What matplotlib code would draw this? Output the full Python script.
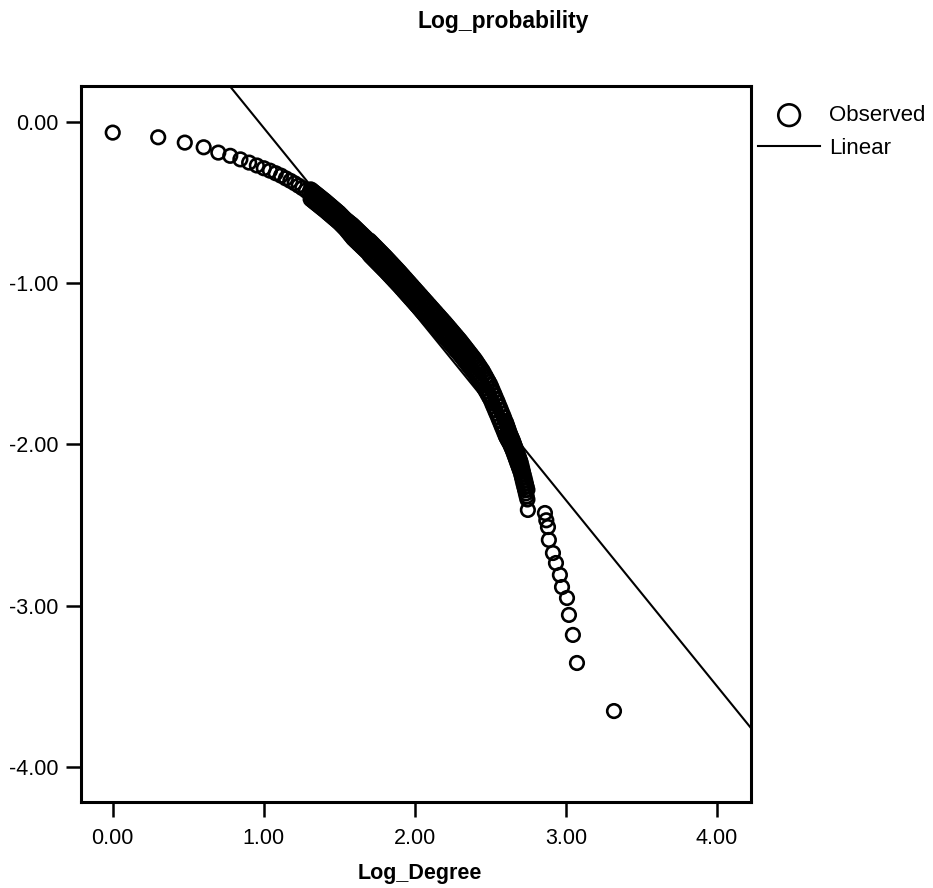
import numpy as np
import matplotlib.pyplot as plt
from matplotlib.ticker import FuncFormatter

plt.rcParams['font.family'] = ['Liberation Sans', 'DejaVu Sans']
plt.rcParams['axes.unicode_minus'] = False

# observed points (log10 degree, log10 probability)
# sparse head of the curve
head_x = [0.000, 0.301, 0.477, 0.602, 0.699, 0.778, 0.845, 0.903, 0.954, 1.000,
          1.041, 1.079, 1.114, 1.146, 1.176, 1.204, 1.230, 1.255, 1.279, 1.301]
head_y = [-0.066, -0.095, -0.128, -0.157, -0.190, -0.210, -0.232, -0.252, -0.270, -0.287,
          -0.302, -0.318, -0.333, -0.350, -0.365, -0.380, -0.395, -0.410, -0.425, -0.440]

# dense band: upper and lower edge of the point cloud at each x
band_x = [
    1.31, 1.32, 1.33, 1.34, 1.35, 1.36, 1.37, 1.38, 1.39, 1.40,
    1.41, 1.42, 1.43, 1.44, 1.45, 1.46, 1.47, 1.48, 1.49, 1.50,
    1.51, 1.52, 1.53, 1.54, 1.55, 1.56, 1.57, 1.58, 1.59, 1.60,
    1.61, 1.62, 1.63, 1.64, 1.65, 1.66, 1.67, 1.68, 1.69, 1.70,
    1.71, 1.72, 1.73, 1.74, 1.75, 1.76, 1.77, 1.78, 1.79, 1.80,
    1.81, 1.82, 1.83, 1.84, 1.85, 1.86, 1.87, 1.88, 1.89, 1.90,
    1.91, 1.92, 1.93, 1.94, 1.95, 1.96, 1.97, 1.98, 1.99, 2.00,
    2.01, 2.02, 2.03, 2.04, 2.05, 2.06, 2.07, 2.08, 2.09, 2.10,
    2.11, 2.12, 2.13, 2.14, 2.15, 2.16, 2.17, 2.18, 2.19, 2.20,
    2.21, 2.22, 2.23, 2.24, 2.25, 2.26, 2.27, 2.28, 2.29, 2.30,
    2.31, 2.32, 2.33, 2.34, 2.35, 2.36, 2.37, 2.38, 2.39, 2.40,
    2.41, 2.42, 2.43, 2.44, 2.45, 2.46, 2.47, 2.48, 2.49, 2.50,
    2.51, 2.52, 2.53, 2.54, 2.55, 2.56, 2.57, 2.58, 2.59,
    2.600, 2.605, 2.610, 2.615, 2.620, 2.625, 2.630, 2.635, 2.640, 2.645,
    2.650, 2.655, 2.660, 2.665, 2.670, 2.675, 2.680, 2.685, 2.690, 2.695,
    2.700, 2.705, 2.710, 2.715, 2.720, 2.725, 2.730, 2.735, 2.740, 2.745,
]
band_upper = [
    -0.418, -0.425, -0.433, -0.440, -0.448, -0.455, -0.463, -0.470, -0.478, -0.485,
    -0.493, -0.501, -0.509, -0.517, -0.525, -0.533, -0.541, -0.549, -0.557, -0.565,
    -0.575, -0.584, -0.594, -0.603, -0.611, -0.618, -0.626, -0.633, -0.641, -0.650,
    -0.659, -0.668, -0.677, -0.686, -0.695, -0.704, -0.713, -0.722, -0.731, -0.735,
    -0.745, -0.754, -0.764, -0.773, -0.783, -0.792, -0.802, -0.811, -0.821, -0.830,
    -0.840, -0.850, -0.860, -0.870, -0.880, -0.890, -0.900, -0.910, -0.920, -0.930,
    -0.941, -0.951, -0.962, -0.972, -0.983, -0.993, -1.004, -1.014, -1.025, -1.035,
    -1.046, -1.056, -1.067, -1.077, -1.088, -1.098, -1.109, -1.119, -1.130, -1.140,
    -1.151, -1.161, -1.172, -1.182, -1.193, -1.203, -1.214, -1.224, -1.235, -1.245,
    -1.256, -1.267, -1.278, -1.289, -1.300, -1.311, -1.322, -1.333, -1.344, -1.355,
    -1.367, -1.379, -1.391, -1.403, -1.415, -1.427, -1.439, -1.451, -1.463, -1.475,
    -1.489, -1.503, -1.517, -1.531, -1.545, -1.562, -1.579, -1.596, -1.613, -1.630,
    -1.652, -1.674, -1.696, -1.718, -1.740, -1.763, -1.786, -1.809, -1.832,
    -1.856, -1.869, -1.882, -1.895, -1.909, -1.923, -1.936, -1.947, -1.958, -1.969,
    -1.980, -1.993, -2.006, -2.019, -2.032, -2.045, -2.058, -2.071, -2.084, -2.097,
    -2.110, -2.129, -2.148, -2.167, -2.186, -2.205, -2.224, -2.243, -2.262, -2.281,
]
band_lower = [
    -0.478, -0.485, -0.493, -0.500, -0.508, -0.515, -0.523, -0.530, -0.538, -0.545,
    -0.553, -0.561, -0.569, -0.577, -0.585, -0.593, -0.601, -0.609, -0.617, -0.625,
    -0.635, -0.644, -0.654, -0.663, -0.675, -0.686, -0.698, -0.709, -0.721, -0.730,
    -0.739, -0.748, -0.757, -0.766, -0.775, -0.784, -0.793, -0.802, -0.811, -0.825,
    -0.835, -0.844, -0.854, -0.863, -0.873, -0.882, -0.892, -0.901, -0.911, -0.920,
    -0.930, -0.940, -0.950, -0.960, -0.970, -0.980, -0.990, -1.000, -1.010, -1.020,
    -1.031, -1.041, -1.052, -1.062, -1.073, -1.083, -1.094, -1.104, -1.115, -1.125,
    -1.136, -1.146, -1.157, -1.167, -1.178, -1.188, -1.199, -1.209, -1.220, -1.230,
    -1.241, -1.251, -1.262, -1.272, -1.283, -1.293, -1.304, -1.314, -1.325, -1.335,
    -1.346, -1.357, -1.368, -1.379, -1.390, -1.401, -1.412, -1.423, -1.434, -1.445,
    -1.457, -1.469, -1.481, -1.493, -1.505, -1.517, -1.529, -1.541, -1.553, -1.565,
    -1.579, -1.593, -1.607, -1.621, -1.635, -1.652, -1.669, -1.686, -1.703, -1.720,
    -1.742, -1.764, -1.786, -1.808, -1.830, -1.853, -1.876, -1.899, -1.922,
    -1.944, -1.953, -1.962, -1.971, -1.979, -1.987, -1.996, -2.007, -2.018, -2.029,
    -2.040, -2.053, -2.066, -2.079, -2.092, -2.105, -2.118, -2.131, -2.144, -2.157,
    -2.170, -2.189, -2.208, -2.227, -2.246, -2.265, -2.284, -2.303, -2.322, -2.341,
]

# sparse tail
tail_x = [2.748, 2.861, 2.870, 2.881, 2.887, 2.914, 2.934, 2.960, 2.974, 3.007,
          3.020, 3.046, 3.073, 3.318]
tail_y = [-2.406, -2.425, -2.470, -2.512, -2.592, -2.673, -2.735, -2.809, -2.884, -2.952,
          -3.057, -3.181, -3.355, -3.653]

log_degree = head_x + band_x + band_x + tail_x
log_prob = head_y + band_upper + band_lower + tail_y

# linear fit shown on the chart
fit_intercept = 1.117
fit_slope = -1.154

x_ticks = [0, 1, 2, 3, 4]
y_ticks = [0, -1, -2, -3, -4]
x_range = (-0.21, 4.225)
y_range = (-4.217, 0.223)

W, H = 933, 888
fig = plt.figure(figsize=(W / 100, H / 100), dpi=100)
ax = fig.add_axes([81 / W, (H - 802) / H, (751 - 81) / W, (802 - 86) / H])

ax.scatter(log_degree, log_prob, s=95, facecolors='none', edgecolors='black',
           linewidths=1.9, label='Observed', zorder=3)
xs = np.array(x_range)
ax.plot(xs, fit_intercept + fit_slope * xs, color='black', lw=1.5,
        label='Linear', zorder=2)

ax.set_xlim(*x_range)
ax.set_ylim(*y_range)
ax.set_xticks(x_ticks)
ax.set_yticks(y_ticks)
fmt = FuncFormatter(lambda v, p: f"{v:.2f}")
ax.xaxis.set_major_formatter(fmt)
ax.yaxis.set_major_formatter(fmt)
ax.tick_params(direction='out', length=10.5, width=1.8, labelsize=15.5,
               color='black', labelcolor='black')
ax.tick_params(axis='x', pad=8)
ax.tick_params(axis='y', pad=6)
for sp in ax.spines.values():
    sp.set_linewidth(2.2)

fig.text(503 / W, 1 - 28 / H, 'Log_probability', ha='center', va='baseline',
         fontsize=16.5, fontweight='bold')
fig.text(420 / W, 1 - 879 / H, 'Log_Degree', ha='center', va='baseline',
         fontsize=15.5, fontweight='bold')

fig.legend(loc='upper left', bbox_to_anchor=(758 / W, 1 - 105 / H),
           frameon=False, fontsize=16, handlelength=2.8, handletextpad=0.4,
           markerscale=1.6, borderpad=0, borderaxespad=0, labelspacing=0.55)

fig.savefig('out.png', dpi=100)
